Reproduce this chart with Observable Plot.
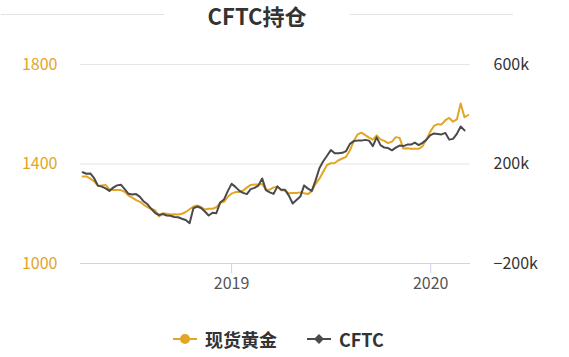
<!DOCTYPE html>
<html><head><meta charset="utf-8">
<script src="https://cdn.jsdelivr.net/npm/d3@7"></script>
<script src="https://cdn.jsdelivr.net/npm/@observablehq/plot@0.6"></script>
<style>
body{margin:0;background:#fff;font-family:"Noto Sans CJK SC","Noto Sans",sans-serif;}
#wrap{width:569px;height:357px;position:relative;overflow:hidden;}
#title{position:relative;height:30px;}
.tl{position:absolute;top:14px;height:1px;background:#e3e3e3;}
#title span{position:absolute;left:257px;top:0;transform:translateX(-50%);font-size:22px;font-weight:bold;color:#333;line-height:30px;white-space:nowrap;}
#legend{position:absolute;left:0;top:326px;width:569px;height:26px;}
#legend .it{position:absolute;top:0;height:26px;display:flex;align-items:center;font-size:18px;font-weight:bold;color:#333;white-space:nowrap;}
#legend svg{margin-right:8px;}
#chart svg{display:block;font-family:"Noto Sans CJK SC","Noto Sans",sans-serif;}
</style></head>
<body>
<div id="wrap">
  <div id="title"><div class="tl" style="left:1px;width:163px"></div><span>CFTC持仓</span><div class="tl" style="left:350px;width:163px"></div></div>
  <div id="chart"></div>
  <div id="legend"></div>
</div>
<script>
const startDate = "2018-04-03";
const goldPrice = [1350,1350,1341,1330,1312,1314,1316,1298,1295,1295,1295,1288,1273,1265,1255,1248,1236,1226,1220,1213,
1189,1202,1200,1197,1198,1197,1200,1207,1218,1229,1233,1227,1217,1220,1220,1226,1244,1248,1268,1281,
1287,1287,1293,1305,1316,1318,1318,1320,1296,1297,1306,1309,1294,1293,1282,1283,1283,1286,1282,1279,
1291,1320,1341,1369,1396,1403,1404,1415,1422,1429,1455,1492,1519,1526,1516,1506,1498,1515,1499,1493,
1484,1490,1508,1505,1462,1463,1461,1461,1461,1471,1498,1529,1553,1560,1559,1576,1585,1570,1579,1643,
1588,1597];
const cftcK = [167,161,162,143,113,109,102,92,105,114,117,99,80,77,79,68,49,38,19,3,
-5,-1,-7,-8,-13,-14,-20,-25,-38,22,29,23,9,-7,4,2,45,57,91,120,
108,93,84,79,99,104,113,142,95,86,80,110,96,96,73,41,55,69,114,101,
92,134,183,211,233,256,243,243,245,252,281,292,294,294,297,294,272,307,276,266,
264,255,266,274,272,278,278,286,276,285,297,315,323,321,319,325,298,301,321,351,
335];
const leftTicks = [1000,1400,1800];
const rightTicks = [-200,200,600];
const rightLabels = ["\u2212200k","200k","600k"];
const xTickYears = ["2019","2020"];
const seriesNames = ["现货黄金","CFTC"];

const GOLD = "#E2A624", DARK = "#4a4a4a";
const t0 = new Date(startDate + "T00:00:00Z");
const goldData = goldPrice.map((v,i)=>({date:d3.utcDay.offset(t0,7*i), v}));
const cftcData = cftcK.map((v,i)=>({date:d3.utcDay.offset(t0,7*i), v}));
// right axis (k) maps to left axis by offset: -200k <-> 1000, 600k <-> 1800
const toLeft = k => k + 1200;
const xTicks = xTickYears.map(y=>new Date(y+"-01-01T00:00:00Z"));

const chart = Plot.plot({
  width:569, height:280,
  marginTop:34, marginBottom:47, marginLeft:80, marginRight:99,
  style:{fontSize:"16px", background:"white"},
  x:{type:"utc", domain:[new Date("2018-03-30T00:00:00Z"), new Date("2020-03-14T00:00:00Z")]},
  y:{domain:[1000,1800]},
  marks:[
    Plot.ruleY([1400,1800], {stroke:"#e6e6e6"}),
    Plot.ruleY([1000], {stroke:"#ccd6eb"}),
    Plot.axisY(leftTicks, {anchor:"left", tickSize:0, tickPadding:23, fill:GOLD, fontSize:16, tickFormat:d=>String(d), label:null}),
    Plot.axisY(rightTicks.map(toLeft), {anchor:"right", tickSize:0, tickPadding:23, fill:"#333", fontSize:16, tickFormat:d=>rightLabels[rightTicks.map(toLeft).indexOf(d)], label:null}),
    Plot.axisX(xTicks, {tickSize:10, tickPadding:4, stroke:"#ccd6eb", fill:"#555", fontSize:16, tickFormat:d=>xTickYears[xTicks.findIndex(t=>+t===+d)], label:null}),
    Plot.lineY(goldData, {x:"date", y:"v", stroke:GOLD, strokeWidth:2}),
    Plot.lineY(cftcData, {x:"date", y:d=>toLeft(d.v), stroke:DARK, strokeWidth:2})
  ]
});
document.getElementById("chart").appendChild(chart);

const legend = document.getElementById("legend");
const items = [
  {name:seriesNames[0], left:173, svg:`<svg width="24" height="12"><line x1="0" y1="6" x2="24" y2="6" stroke="${GOLD}" stroke-width="2"/><circle cx="12" cy="6" r="5" fill="${GOLD}"/></svg>`},
  {name:seriesNames[1], left:307, svg:`<svg width="24" height="12"><line x1="0" y1="6" x2="24" y2="6" stroke="${DARK}" stroke-width="2"/><path d="M12 1 L17 6 L12 11 L7 6 Z" fill="${DARK}"/></svg>`}
];
for (const it of items) {
  const d = document.createElement("div");
  d.className = "it";
  d.style.left = it.left + "px";
  d.innerHTML = it.svg + `<span>${it.name}</span>`;
  legend.appendChild(d);
}
</script>
</body></html>
